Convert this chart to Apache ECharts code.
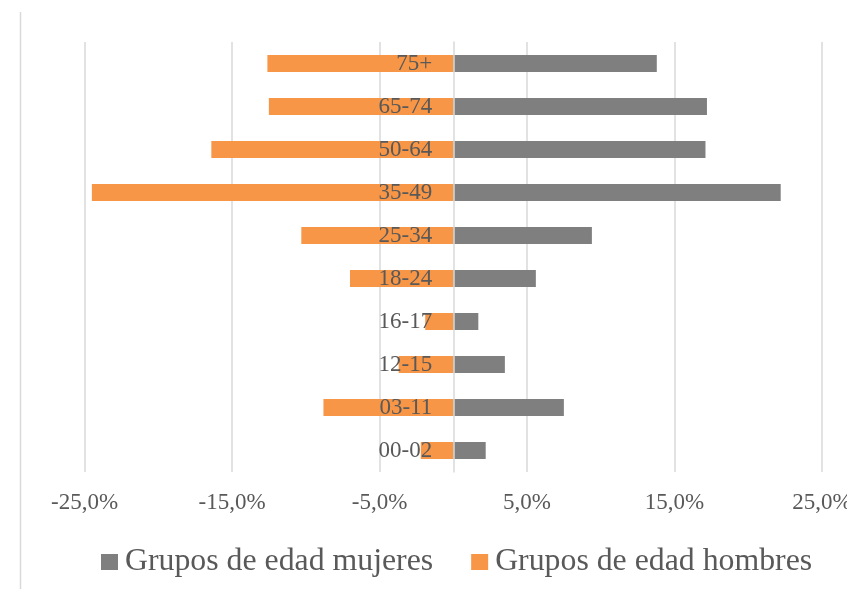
<!DOCTYPE html>
<html>
<head>
<meta charset="utf-8">
<script src="https://cdn.jsdelivr.net/npm/echarts@6/dist/echarts.min.js"></script>
<style>
  html, body { margin: 0; padding: 0; background: #fff; }
  #chart { width: 847px; height: 589px; }
</style>
</head>
<body>
<div id="chart"></div>
<script>
// Age groups, bottom to top
const categories = ['00-02', '03-11', '12-15', '16-17', '18-24', '25-34', '35-49', '50-64', '65-74', '75+'];
// Share per age group (%), women drawn to the right
const mujeres = [2.2, 7.5, 3.5, 1.7, 5.6, 9.4, 22.2, 17.1, 17.2, 13.8];
// Share per age group (%), men drawn to the left as negative values
const hombres = [-2.2, -8.8, -3.7, -1.9, -7.0, -10.3, -24.5, -16.4, -12.5, -12.6];
const xTicks = { min: -25, max: 25, step: 10 };

const serif = '"Liberation Serif", "Times New Roman", serif';
const textColor = '#595959';
const lineColor = '#d9d9d9';

const gridLeft = 84.5;
const gridRight = 25;
const W = 847;
// Shift the category axis from the grid's left edge to the zero line
const plotWidth = W - gridLeft - gridRight;
const zeroShift = plotWidth * (0 - xTicks.min) / (xTicks.max - xTicks.min);

const chart = echarts.init(document.getElementById('chart'), null, { renderer: 'canvas' });
chart.setOption({
  animation: false,
  backgroundColor: '#ffffff',
  grid: { left: gridLeft, right: gridRight, top: 42, bottom: 117, containLabel: false, outerBoundsMode: 'none' },
  legend: {
    left: 101,
    top: 546,
    padding: 0,
    itemWidth: 17,
    itemHeight: 16,
    itemGap: 38,
    icon: 'rect',
    textStyle: { fontFamily: serif, fontSize: 31.8, color: textColor, padding: [0, 0, 0, 2] },
    data: ['Grupos de edad mujeres', 'Grupos de edad hombres']
  },
  xAxis: {
    type: 'value',
    min: xTicks.min,
    max: xTicks.max,
    interval: xTicks.step,
    axisLine: { show: false },
    axisTick: { show: false },
    splitLine: { show: true, lineStyle: { color: lineColor, width: 1.5 } },
    axisLabel: {
      fontFamily: serif, fontSize: 23, color: textColor, margin: 19,
      formatter: v => v.toFixed(1).replace('.', ',') + '%'
    }
  },
  yAxis: {
    type: 'category',
    data: categories,
    z: 5,
    offset: -zeroShift,
    axisLine: { show: true, onZero: false, lineStyle: { color: lineColor, width: 1.5 } },
    axisTick: { show: false },
    splitLine: { show: false },
    axisLabel: { fontFamily: serif, fontSize: 23, color: textColor, margin: 21 }
  },
  series: [
    {
      name: 'Grupos de edad mujeres',
      type: 'bar',
      data: mujeres,
      barWidth: 17,
      barGap: '-100%',
      itemStyle: { color: '#7f7f7f' }
    },
    {
      name: 'Grupos de edad hombres',
      type: 'bar',
      data: hombres,
      barWidth: 17,
      itemStyle: { color: '#f79646' }
    }
  ],
  graphic: [
    {
      type: 'line',
      shape: { x1: 20.5, y1: 12, x2: 20.5, y2: 589 },
      style: { stroke: lineColor, lineWidth: 1.5 },
      silent: true
    }
  ]
});
</script>
</body>
</html>
